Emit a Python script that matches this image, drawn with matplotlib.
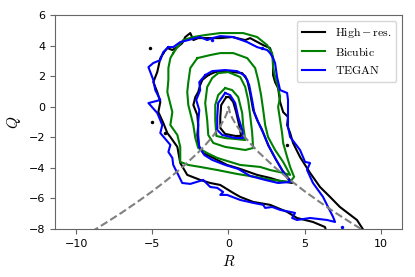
import numpy as np
import matplotlib.pyplot as plt

plt.rcParams['mathtext.fontset'] = 'cm'

# contour lines of the joint PDF as (R, Q) pairs
hr_outer = [(-4.28, 3.51), (-4.02, 3.84), (-3.69, 3.71), (-3.36, 3.90), (-3.04, 4.16),
            (-2.84, 4.56), (-2.51, 4.82), (-2.31, 4.36), (-1.99, 4.49), (-1.20, 4.49),
            (-0.54, 4.49), (0.24, 4.56), (1.10, 4.36), (1.42, 4.49), (2.28, 4.03),
            (2.73, 3.84), (2.93, 3.18), (2.93, 2.07), (3.06, 1.61), (3.26, 1.22),
            (3.39, 0.31), (3.59, -0.35), (3.91, -0.67), (3.85, -1.20), (4.05, -1.72),
            (4.24, -2.37), (4.70, -3.29), (5.36, -4.33), (6.01, -5.25), (6.67, -5.90),
            (7.32, -6.56), (8.44, -7.41), (8.90, -8.12), (6.41, -8.12), (6.34, -7.87),
            (5.55, -7.54), (4.50, -7.28), (3.85, -6.88), (2.73, -6.42), (1.62, -6.23),
            (0.77, -5.90), (0.31, -5.64), (-0.54, -5.12), (-1.20, -4.99), (-1.86, -4.79),
            (-2.71, -4.46), (-3.17, -3.68), (-3.36, -2.63), (-3.82, -1.98), (-4.02, -1.72),
            (-4.28, -1.07), (-4.61, -0.35), (-4.48, 0.31), (-4.68, 0.96), (-4.94, 1.61),
            (-4.68, 2.27), (-4.48, 3.18)]
hr_mid = [(-1.33, 2.07), (-0.87, 2.27), (0.24, 2.27), (0.90, 2.20), (1.23, 1.75),
          (1.42, 0.90), (1.62, -0.22), (1.88, -0.87), (2.21, -1.52), (2.60, -2.50),
          (3.06, -3.35), (3.52, -4.14), (4.18, -4.99), (3.39, -4.86), (2.73, -4.66),
          (1.88, -4.46), (0.77, -4.07), (-0.09, -3.81), (-1.00, -3.35), (-1.66, -3.03),
          (-1.99, -2.50), (-2.05, -1.85), (-1.99, -1.20), (-2.05, -0.54), (-2.31, 0.11),
          (-2.18, 0.63), (-1.99, 0.96), (-1.86, 1.42), (-1.72, 1.75)]
hr_inner = [(-0.15, 0.63), (-0.48, 0.11), (-0.54, -0.67), (-0.54, -1.39), (-0.22, -1.78),
            (0.44, -1.91), (0.83, -1.91), (0.70, -1.20), (0.50, -0.35), (0.31, 0.31),
            (0.05, 0.63)]
hr_spots = [(-5.13, 3.84), (-5.00, -1.00), (-4.15, -1.72), (3.85, -2.50)]

bic_1 = [(-3.63, 3.51), (-3.36, 3.90), (-2.97, 4.36), (-2.31, 4.56), (-1.53, 4.69),
         (-0.54, 4.82), (0.24, 4.82), (0.96, 4.82), (1.88, 4.56), (2.54, 4.03),
         (2.87, 3.51), (2.93, 2.59), (3.06, 1.94), (3.26, 1.29), (3.39, 0.63),
         (3.26, -0.02), (3.39, -0.87), (3.52, -1.72), (3.59, -2.37), (3.85, -3.29),
         (4.05, -3.94), (4.31, -4.59), (4.05, -4.92), (2.87, -4.79), (1.75, -4.59),
         (0.57, -4.40), (-0.74, -4.14), (-1.86, -3.94), (-2.64, -3.81), (-3.17, -3.61),
         (-3.17, -2.63), (-3.36, -1.85), (-3.82, -1.20), (-3.69, -0.35), (-4.02, 0.96),
         (-3.95, 1.75), (-3.95, 2.53), (-3.82, 3.18)]
bic_2 = [(-2.05, 3.18), (-1.20, 3.38), (-0.54, 3.51), (0.31, 3.51), (1.23, 3.18),
         (1.75, 2.53), (1.95, 1.75), (2.14, 0.76), (2.28, -0.22), (2.41, -1.20),
         (2.60, -1.98), (3.06, -2.83), (3.59, -3.61), (4.05, -4.46), (3.59, -4.33),
         (2.73, -4.14), (2.08, -3.94), (0.77, -3.81), (0.11, -3.61), (-0.74, -3.35),
         (-1.40, -3.03), (-1.99, -2.70), (-2.18, -2.05), (-2.31, -1.20), (-2.64, 0.11),
         (-2.71, 0.96), (-2.64, 1.61), (-2.51, 2.53)]
bic_3 = [(-0.68, 2.20), (-0.02, 2.27), (0.77, 1.94), (1.10, 1.29), (1.29, 0.44),
         (1.42, -0.54), (1.55, -1.65), (1.62, -2.70), (1.10, -2.83), (0.24, -2.70),
         (-0.22, -2.63), (-1.00, -2.37), (-1.33, -1.85), (-1.40, -0.87), (-1.53, 0.24),
         (-1.40, 1.29), (-1.07, 1.88)]
bic_4 = [(-0.22, 1.22), (0.24, 1.09), (0.64, 0.63), (0.90, -0.41), (0.96, -1.20),
         (1.10, -2.18), (0.44, -2.11), (-0.22, -2.05), (-0.80, -1.91), (-0.87, -0.87),
         (-0.87, 0.11), (-0.68, 0.76)]

tg_outer = [(-3.95, 3.90), (-3.63, 3.90), (-3.17, 4.23), (-2.64, 4.36), (-2.18, 4.49),
            (-1.86, 4.56), (-1.40, 4.36), (-1.07, 4.49), (-0.54, 4.62), (0.31, 4.56),
            (1.23, 4.23), (1.88, 3.90), (2.54, 3.71), (2.73, 3.51), (2.93, 3.18),
            (3.06, 2.86), (3.19, 1.94), (3.39, 1.09), (3.85, 0.90), (3.91, 0.44),
            (3.91, -0.41), (3.91, -1.33), (4.05, -1.98), (4.70, -2.83), (5.03, -3.61),
            (5.36, -3.68), (5.16, -4.14), (5.55, -4.99), (6.21, -5.90), (6.54, -6.56),
            (6.87, -7.21), (7.00, -7.54), (6.47, -7.41), (5.36, -7.28), (4.50, -7.41),
            (4.18, -7.28), (4.37, -6.95), (4.05, -6.88), (3.39, -6.75), (2.87, -6.56),
            (2.41, -6.62), (2.28, -6.42), (1.62, -6.29), (0.77, -6.10), (-0.09, -5.77),
            (-0.54, -5.77), (-0.35, -5.58), (-0.74, -5.31), (-1.20, -5.25), (-1.66, -4.79),
            (-2.51, -5.05), (-3.04, -4.99), (-3.30, -4.46), (-3.63, -3.81), (-3.69, -3.35),
            (-3.95, -2.96), (-3.82, -2.50), (-4.48, -1.72), (-4.35, -1.20), (-4.68, -0.41),
            (-5.26, 0.24), (-4.48, 0.44), (-4.81, 1.09), (-4.94, 1.75), (-5.26, 2.59),
            (-4.94, 2.86), (-4.48, 3.05), (-4.28, 3.58)]
tg_mid = [(-1.53, 2.07), (-1.07, 2.33), (-0.22, 2.40), (0.57, 2.33), (1.10, 2.01),
          (1.36, 1.42), (1.55, 0.44), (1.69, -0.35), (1.95, -1.00), (2.28, -1.72),
          (2.67, -2.63), (3.13, -3.48), (3.59, -4.27), (4.05, -4.92), (3.26, -4.99),
          (2.41, -4.79), (1.42, -4.53), (0.64, -4.07), (-0.22, -3.81), (-1.07, -3.48),
          (-1.59, -3.16), (-1.92, -2.63), (-1.99, -1.85), (-1.99, -1.00), (-1.92, -0.22),
          (-2.12, 0.44), (-1.86, 1.09), (-1.92, 1.61)]
tg_inner = [(-0.22, 0.90), (-0.68, 0.24), (-0.74, -0.67), (-0.74, -1.52), (-0.41, -1.85),
            (0.44, -2.05), (0.96, -2.05), (0.90, -1.52), (0.64, -0.67), (0.44, 0.24),
            (0.11, 0.76)]
tg_spots = [(2.21, 3.84), (-1.07, 4.36), (7.45, -7.87)]

# Vieillefosse line, Q = -(27/4 R^2)^(1/3)
vf_r = [-9, -8, -7, -6, -5, -4, -3, -2, -1.5, -1, -0.5, -0.25, -0.1, 0,
        0.1, 0.25, 0.5, 1, 1.5, 2, 3, 4, 5, 6, 7, 8, 9]
vf_q = [-8.18, -7.56, -6.92, -6.24, -5.53, -4.76, -3.93, -3.0, -2.48, -1.89, -1.19, -0.75, -0.41, 0,
        -0.41, -0.75, -1.19, -1.89, -2.48, -3.0, -3.93, -4.76, -5.53, -6.24, -6.92, -7.56, -8.18]

groups = [
    ([hr_outer, hr_mid, hr_inner], hr_spots, 'black', r'$\mathrm{High}-\mathrm{res.}$'),
    ([bic_1, bic_2, bic_3, bic_4], [], 'green', r'$\mathrm{Bicubic}$'),
    ([tg_outer, tg_mid, tg_inner], tg_spots, 'blue', r'$\mathrm{TEGAN}$'),
]

fig = plt.figure(figsize=(4.15, 2.77), dpi=100)
ax = fig.add_axes([0.1325, 0.1733, 0.8362, 0.7725])

for lines, spots, color, label in groups:
    for i, pts in enumerate(lines):
        a = np.array(pts + pts[:1])
        ax.plot(a[:, 0], a[:, 1], color=color, lw=1.5,
                label=label if i == 0 else None)
    if spots:
        s = np.array(spots)
        ax.plot(s[:, 0], s[:, 1], 'o', color=color, ms=2.5, mew=0)

ax.plot(vf_r, vf_q, '--', color='grey', lw=1.5, zorder=3)

ax.set_xlim(-11.4, 11.4)
ax.set_ylim(-8, 6)
ax.set_xticks([-10, -5, 0, 5, 10])
ax.set_yticks([-8, -6, -4, -2, 0, 2, 4, 6])
ax.tick_params(labelsize=8, color='0.4')
for sp in ax.spines.values():
    sp.set_color('0.4')
ax.set_xlabel(r'$R$', fontsize=11)
ax.set_ylabel(r'$Q$', fontsize=11)
ax.legend(loc='upper right', fontsize=8.5)

fig.savefig('out.png', dpi=100)
